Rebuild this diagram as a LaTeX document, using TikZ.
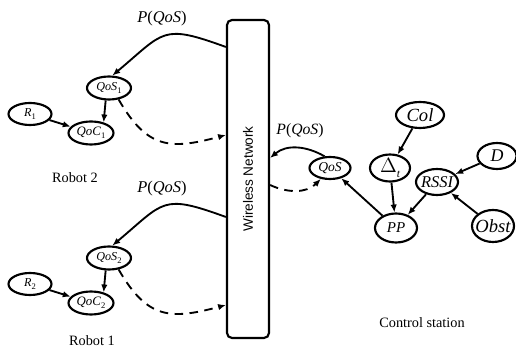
\documentclass[tikz,border=0pt]{standalone}
\usepackage{fontspec}
\usepackage{graphicx}
\setmainfont{Liberation Serif}
\setsansfont{Liberation Sans}
\usetikzlibrary{arrows.meta,shapes.geometric}
\newcommand\lowidx[1]{\raisebox{-0.45ex}{\upshape\fontsize{6}{6}\selectfont #1}}
\newcommand\fsz[1]{\fontsize{#1}{#1}\selectfont}
\newcommand\nb[1]{\makebox[0pt]{#1}}
\begin{document}
\begin{tikzpicture}[x=0.7pt,y=-0.7pt,
  var/.style={draw, ellipse, line width=1.5pt, inner sep=0pt, font=\itshape},
  arr/.style={-{Latex[length=5.5pt,width=4.5pt]}, line width=1.3pt},
  dsh/.style={arr, dash pattern=on 6pt off 4.5pt},
  lbl/.style={inner sep=0pt}]
\useasboundingbox (0,0) rectangle (516,350);

% wireless network
\node[draw, rounded corners=3.5pt, line width=1.5pt, minimum width=29.4pt, minimum height=222.6pt, inner sep=0pt] (net) at (248,179)
  {\rotatebox{90}{\sffamily\fsz{9.5}Wireless Network}};

% Robot 2
\node[var, minimum width=30.8pt, minimum height=16.1pt] (qs1) at (109,88) {\nb{\fsz{8.5}QoS\lowidx{1}}};
\node[var, minimum width=30.1pt, minimum height=15.4pt] (r1) at (30,114) {\nb{\fsz{8.5}R\lowidx{1}}};
\node[var, minimum width=31.5pt, minimum height=16.1pt] (qc1) at (91,133) {\nb{\fsz{9}QoC\lowidx{1}}};
\node[lbl] (rob2) at (75,178) {\fsz{10}Robot 2};
\node[lbl] (p1) at (162,19) {\fsz{11.5}\textit{P}(\textit{QoS})};
\draw[arr] (qs1.255) -- (qc1.40);
\draw[arr] (r1) -- (qc1);
\draw[arr] ([yshift=92.4pt]net.west) to[out=160,in=40,looseness=1.5] (qs1.75);
\draw[dsh] (qs1.-50) to[out=-60,in=195,looseness=1.3] ([yshift=30.8pt]net.west);

% Robot 1
\node[var, minimum width=30.8pt, minimum height=16.1pt] (qs2) at (109,258) {\nb{\fsz{8.5}QoS\lowidx{2}}};
\node[var, minimum width=30.1pt, minimum height=15.4pt] (r2) at (30,284) {\nb{\fsz{8.5}R\lowidx{2}}};
\node[var, minimum width=31.5pt, minimum height=16.1pt] (qc2) at (91,303) {\nb{\fsz{9}QoC\lowidx{2}}};
\node[lbl] (rob1) at (92,341) {\fsz{10}Robot 1};
\node[lbl] (p2) at (162,189) {\fsz{11.5}\textit{P}(\textit{QoS})};
\draw[arr] (qs2.255) -- (qc2.40);
\draw[arr] (r2) -- (qc2);
\draw[arr] ([yshift=-26.6pt]net.west) to[out=160,in=40,looseness=1.5] (qs2.75);
\draw[dsh] (qs2.-50) to[out=-60,in=195,looseness=1.3] ([yshift=-88.2pt]net.west);

% Control station
\node[var, minimum width=28.7pt, minimum height=15.4pt] (qcs) at (330,168) {\nb{\fsz{9.5}QoS}};
\node[var, minimum width=33.6pt, minimum height=18.2pt] (col) at (420,115) {\nb{\fsz{13}Col}};
\node[var, minimum width=28pt, minimum height=18.9pt] (dt) at (390,168) {\nb{\upshape\fsz{14}$\Delta$\raisebox{-0.5ex}{\itshape\fsz{8}t}}};
\node[var, minimum width=27.3pt, minimum height=18.2pt] (d) at (497,156) {\nb{\fsz{12.5}D}};
\node[var, minimum width=29.4pt, minimum height=18.2pt] (rssi) at (437,182) {\nb{\fsz{11.5}RSSI}};
\node[var, minimum width=29.4pt, minimum height=20.3pt] (pp) at (396,228) {\nb{\fsz{10.5}PP}};
\node[var, minimum width=29.4pt, minimum height=22.4pt] (obst) at (493,226) {\nb{\fsz{13}Obst}};
\node[lbl] (p3) at (300,131) {\fsz{11}\textit{P}(\textit{QoS})};
\node[lbl] (cs) at (422,323) {\fsz{10}Control station};

\draw[arr] (col) -- (dt);
\draw[arr] (dt) -- (pp);
\draw[arr] (rssi) -- (pp);
\draw[arr] (d) -- (rssi);
\draw[arr] (obst) -- (rssi);
\draw[arr] (pp) -- (qcs);
\draw[arr] (qcs.115) to[out=150,in=40] ([yshift=14.7pt]net.east);
\draw[dsh] ([yshift=-4.2pt]net.east) to[out=-25,in=225] (qcs.230);
\end{tikzpicture}
\end{document}
